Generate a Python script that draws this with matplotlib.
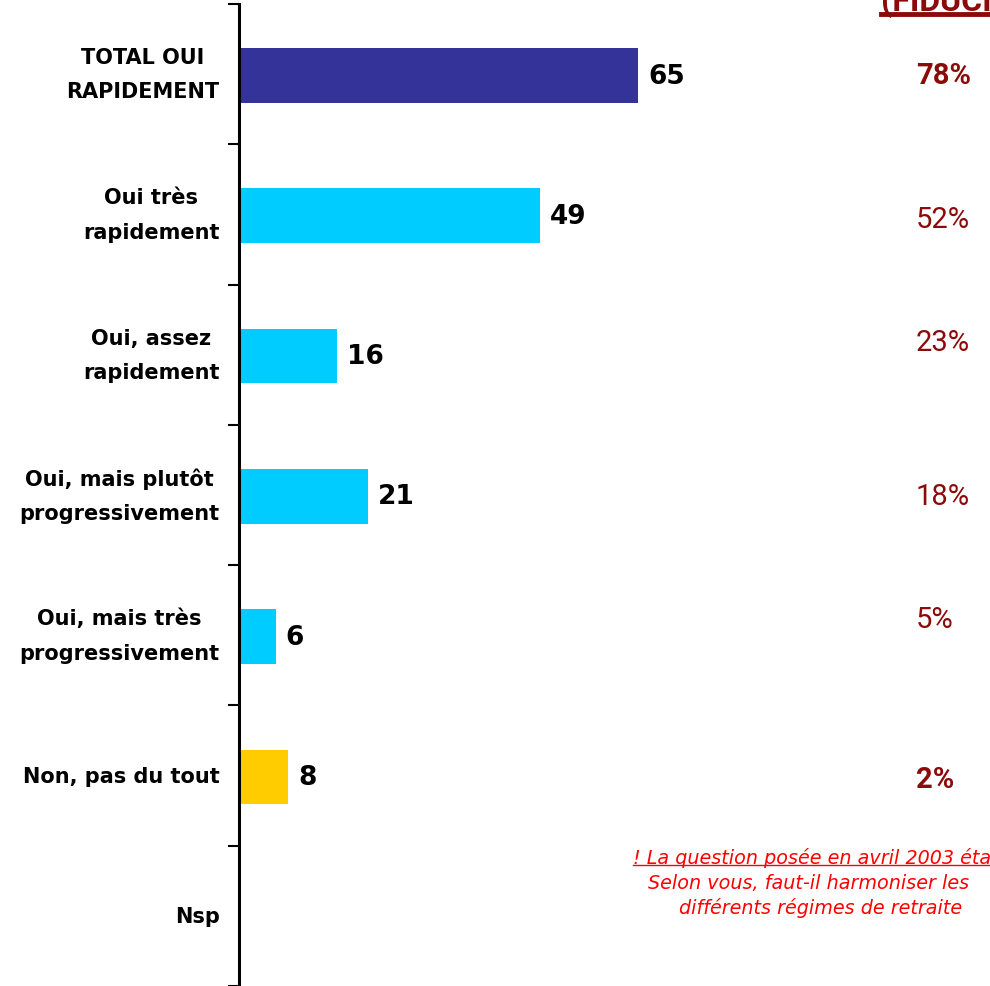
import numpy as np
import matplotlib.pyplot as plt

# Données
categories = ["TOTAL OUI\nRAPIDEMENT", "Oui très\nrapidement", "Oui, assez\nrapidement",
              "Oui, mais plutôt\nprogressivement", "Oui, mais très\nprogressivement",
              "Non, pas du tout", "Nsp"]
valeurs = [65, 49, 16, 21, 6, 8, None]
couleurs = ["#333399", "#00CCFF", "#00CCFF", "#00CCFF", "#00CCFF", "#FFCC00", "#FFFFFF"]
fiducial = ["78%", "52%", "23%", "18%", "5%", "2%"]
fiducial_gras = [True, False, False, False, False, True]
entete = "(FIDUCIAL)"
note = ["! La question posée en avril 2003 était :",
        "Selon vous, faut-il harmoniser les",
        "différents régimes de retraite"]

W, H = 990, 987
fig = plt.figure(figsize=(9.9, 9.87), dpi=100)
# axe : spine gauche à x=239 px, de y=5 à y=988 px
ax = fig.add_axes([239 / W, 0, 1 - 239 / W, 1 - 5 / H])
px_par_unite = 6.14
xmax = (W - 239) / px_par_unite
ax.set_xlim(0, xmax)
ax.set_ylim(len(categories) - 0.5, -0.5)

y = np.arange(len(categories))
for i, v in enumerate(valeurs):
    if v is None:
        continue
    ax.barh(i + 0.01, v, height=0.39, color=couleurs[i], edgecolor="none")
    ax.text(v + 10 / px_par_unite, i + 0.01, str(v), va="center", ha="left",
            fontsize=19, fontweight="bold", color="black")

ax.set_yticks(y, categories)
ax.tick_params(axis="y", which="major", length=0, pad=14, labelsize=15)
for lab in ax.get_yticklabels():
    lab.set_fontweight("bold")
    lab.set_multialignment("center")
    lab.set_verticalalignment("center")
    lab.set_linespacing(1.9)
ax.set_yticks(np.arange(-0.5, len(categories), 1), minor=True)
ax.tick_params(axis="y", which="minor", length=8, width=1.5, direction="out")
ax.set_xticks([])
for s in ["top", "right", "bottom"]:
    ax.spines[s].set_visible(False)
ax.spines["left"].set_linewidth(2.2)

# Colonne FIDUCIAL
rouge_fonce = "#8B0A0A"
pos_y = [76, 220, 343, 497, 620, 780]
for t, gras, py in zip(fiducial, fiducial_gras, pos_y):
    fig.text(916 / W, 1 - py / H, t, ha="left", va="center", fontsize=21,
             fontweight="bold" if gras else "normal", color=rouge_fonce,
             family="Roboto")

txt_entete = fig.text(881 / W, 1 - 2 / H, entete, ha="left", va="center", fontsize=23,
                      fontweight="bold", color=rouge_fonce, family="Roboto")

# Note en bas à droite
rouge = "#FF0000"
note_x = [633, 648, 679]
note_y = [858, 884, 908]
txt_note = []
for t, xx, yy in zip(note, note_x, note_y):
    txt_note.append(fig.text(xx / W, 1 - yy / H, t, ha="left", va="center", fontsize=13.8,
                             style="italic", color=rouge))

# Soulignements
fig.canvas.draw()
r = fig.canvas.get_renderer()
for t, c, lw, dy in [(txt_entete, rouge_fonce, 3.5, 0.003), (txt_note[0], rouge, 1, 0.002)]:
    bb = t.get_window_extent(r).transformed(fig.transFigure.inverted())
    fig.add_artist(plt.Line2D([bb.x0, bb.x1], [bb.y0 + dy, bb.y0 + dy],
                              transform=fig.transFigure, color=c, lw=lw))

fig.savefig("out.png", dpi=100)
